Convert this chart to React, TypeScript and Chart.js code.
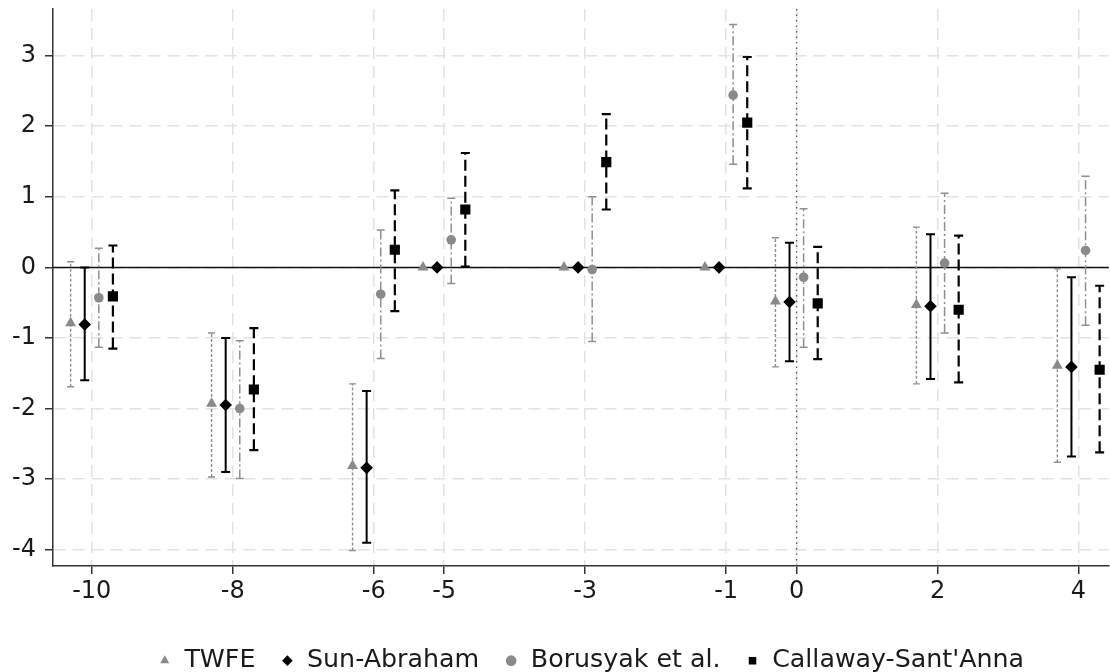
import React, { useEffect, useRef } from "react";
import { Chart, registerables } from "chart.js";

Chart.register(...registerables);

// ---- data ----
const periods = [-10, -8, -6, -5, -3, -1, 0, 2, 4];
const xTicks = [-10, -8, -6, -5, -3, -1, 0, 2, 4];
const yTicks = [-4, -3, -2, -1, 0, 1, 2, 3];
const seriesNames = ["TWFE", "Sun-Abraham", "Borusyak et al.", "Callaway-Sant'Anna"];
const dodge = [-0.3, -0.1, 0.1, 0.3];

const twfeEst = [-0.79, -1.93, -2.81, 0, 0, 0, -0.48, -0.53, -1.39];
const twfeLo = [-1.69, -2.97, -4.01, null, null, null, -1.41, -1.65, -2.76];
const twfeHi = [0.08, -0.93, -1.65, null, null, null, 0.42, 0.57, -0.02];

const saEst = [-0.81, -1.95, -2.84, 0, 0, 0, -0.49, -0.55, -1.41];
const saLo = [-1.6, -2.9, -3.9, null, null, null, -1.33, -1.58, -2.68];
const saHi = [0.0, -1.0, -1.75, null, null, null, 0.35, 0.47, -0.14];

const borEst = [-0.43, -2.0, -0.38, 0.39, -0.03, 2.44, -0.14, 0.06, 0.24];
const borLo = [-1.13, -2.99, -1.29, -0.23, -1.05, 1.46, -1.13, -0.93, -0.82];
const borHi = [0.27, -1.04, 0.53, 0.98, 1.0, 3.44, 0.83, 1.05, 1.29];

const csEst = [-0.41, -1.73, 0.25, 0.82, 1.49, 2.05, -0.51, -0.6, -1.45];
const csLo = [-1.15, -2.59, -0.62, 0.01, 0.82, 1.12, -1.3, -1.63, -2.62];
const csHi = [0.31, -0.86, 1.09, 1.62, 2.17, 2.98, 0.29, 0.45, -0.26];

const GRAY = "#8a8a8a";
const BLACK = "#000000";

const series = [
  { name: seriesNames[0], est: twfeEst, lo: twfeLo, hi: twfeHi, color: GRAY, barColor: "#8f8f8f", style: "triangle", radius: 6.3, dash: [3, 2], width: 1.4, cap: 3.5 },
  { name: seriesNames[1], est: saEst, lo: saLo, hi: saHi, color: BLACK, barColor: BLACK, style: "rectRot", radius: 6.3, dash: [], width: 2, cap: 4.5 },
  { name: seriesNames[2], est: borEst, lo: borLo, hi: borHi, color: GRAY, barColor: "#8f8f8f", style: "circle", radius: 4.8, dash: [9, 3, 2, 3], width: 1.5, cap: 4 },
  { name: seriesNames[3], est: csEst, lo: csLo, hi: csHi, color: BLACK, barColor: BLACK, style: "rect", radius: 7.2, dash: [11, 5], width: 2.2, cap: 4.5 },
];

const errorBarPlugin = {
  id: "errorBars",
  beforeDatasetsDraw(chart: any) {
    const { ctx, chartArea, scales } = chart;
    const x = scales.x;
    const y = scales.y;
    ctx.save();
    const y0 = y.getPixelForValue(0);
    ctx.strokeStyle = "#111";
    ctx.lineWidth = 1.5;
    ctx.setLineDash([]);
    ctx.beginPath();
    ctx.moveTo(chartArea.left, y0);
    ctx.lineTo(chartArea.right, y0);
    ctx.stroke();
    const x0 = x.getPixelForValue(0);
    ctx.strokeStyle = "#555";
    ctx.lineWidth = 1.3;
    ctx.setLineDash([1.5, 4]);
    ctx.beginPath();
    ctx.moveTo(x0, chartArea.top);
    ctx.lineTo(x0, chartArea.bottom);
    ctx.stroke();

    series.forEach((s, di) => {
      s.lo.forEach((lo: number | null, i: number) => {
        const hi = s.hi[i];
        if (lo == null || hi == null) return;
        const px = x.getPixelForValue(periods[i] + dodge[di]);
        const pLo = y.getPixelForValue(lo);
        const pHi = y.getPixelForValue(hi);
        ctx.strokeStyle = s.barColor;
        ctx.lineWidth = s.width;
        ctx.setLineDash(s.dash);
        ctx.beginPath();
        ctx.moveTo(px, pLo);
        ctx.lineTo(px, pHi);
        ctx.stroke();
        ctx.setLineDash([]);
        ctx.beginPath();
        ctx.moveTo(px - s.cap, pLo);
        ctx.lineTo(px + s.cap, pLo);
        ctx.moveTo(px - s.cap, pHi);
        ctx.lineTo(px + s.cap, pHi);
        ctx.stroke();
      });
    });
    ctx.restore();
  },
};

// shifts the legend block slightly right, as in the reference
const legendShiftPlugin = {
  id: "legendShift",
  afterLayout(chart: any) {
    const lg = chart.legend;
    if (lg) {
      lg.left += 10;
      lg.right += 10;
    }
  },
};

export default function App() {
  const ref = useRef<HTMLCanvasElement | null>(null);
  useEffect(() => {
    if (!ref.current) return;
    Chart.defaults.font.family = "'DejaVu Sans', sans-serif";
    const datasets = series.map((s, di) => ({
      label: s.name,
      data: s.est.map((v, i) => ({ x: periods[i] + dodge[di], y: v })),
      pointStyle: s.style,
      pointRadius: s.radius,
      pointHoverRadius: s.radius,
      backgroundColor: s.color,
      borderColor: s.color,
      pointBackgroundColor: s.color,
      pointBorderColor: s.color,
      pointBorderWidth: 0,
      borderWidth: 0,
      showLine: false,
    }));
    const chart = new Chart(ref.current, {
      type: "scatter",
      data: { datasets },
      options: {
        animation: false,
        responsive: true,
        maintainAspectRatio: false,
        layout: { padding: { top: 9, right: 0, bottom: 0, left: 0 } },
        plugins: {
          tooltip: { enabled: false },
          legend: {
            position: "bottom",
            fullSize: false,
            maxHeight: 49,
            labels: {
              usePointStyle: true,
              boxWidth: 14,
              boxHeight: 7.5,
              padding: 25,
              color: "#1a1a1a",
              font: { size: 25.3 },
            },
          },
        },
        scales: {
          x: {
            type: "linear",
            min: -10.55,
            max: 4.43,
            afterBuildTicks: (scale: any) => {
              scale.ticks = xTicks.map((v) => ({ value: v }));
            },
            afterFit: (scale: any) => {
              scale.height = 57;
              scale.paddingLeft = 0;
              scale.paddingRight = 0;
            },
            ticks: {
              color: "#1a1a1a",
              font: { size: 24 },
              padding: 3,
              maxRotation: 0,
              autoSkip: false,
              callback: (v: any) => String(v),
            },
            grid: {
              color: "#e2e2e2",
              lineWidth: 1.5,
              drawTicks: true,
              tickLength: 8,
              tickColor: "#333",
              tickWidth: 1.5,
            },
            border: { display: true, color: "#333", width: 1.5, dash: [12, 7] },
          },
          y: {
            type: "linear",
            min: -4.23,
            max: 3.66,
            afterBuildTicks: (scale: any) => {
              scale.ticks = yTicks.map((v) => ({ value: v }));
            },
            afterFit: (scale: any) => {
              scale.width = 53;
              scale.paddingTop = 0;
              scale.paddingBottom = 0;
            },
            ticks: {
              color: "#1a1a1a",
              font: { size: 24 },
              padding: 9,
              callback: (v: any) => String(v),
            },
            grid: {
              color: "#e2e2e2",
              lineWidth: 1.5,
              drawTicks: true,
              tickLength: 8,
              tickColor: "#333",
              tickWidth: 1.5,
            },
            border: { display: true, color: "#333", width: 1.5, dash: [12, 7] },
          },
        },
      },
      plugins: [errorBarPlugin, legendShiftPlugin],
    } as any);
    return () => chart.destroy();
  }, []);
  return (
    <div style={{ position: "fixed", left: 0, top: 0, width: 1116, height: 672, background: "#fff" }}>
      <canvas ref={ref} />
    </div>
  );
}
